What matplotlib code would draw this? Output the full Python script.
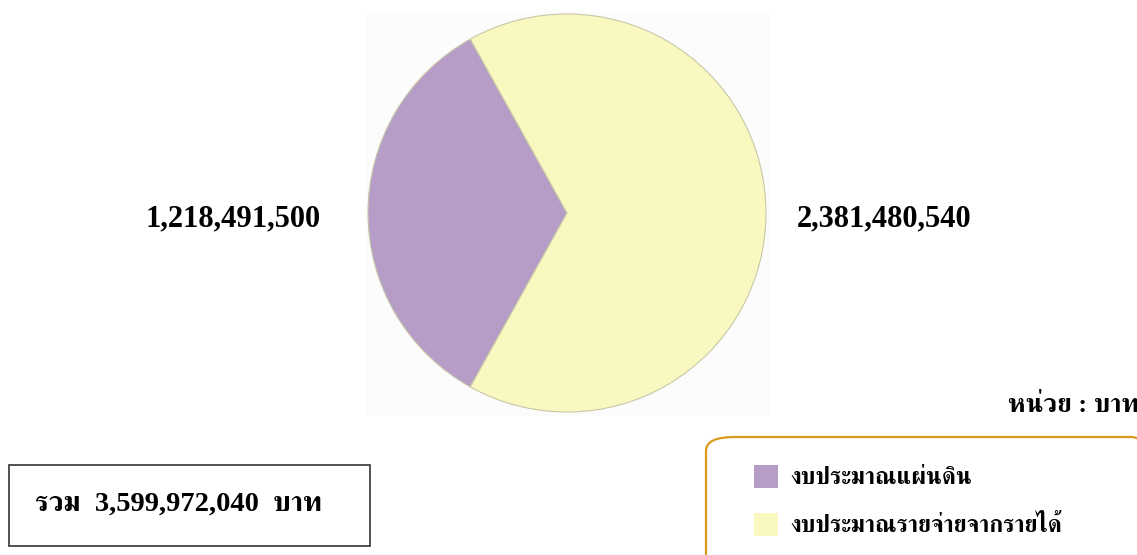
import matplotlib
matplotlib.use("Agg")
import matplotlib.pyplot as plt
import matplotlib.font_manager as fm
from matplotlib.ft2font import FT2Font
from matplotlib.patches import Rectangle, FancyBboxPatch

# ---- data ----
labels = ["งบประมาณแผ่นดิน", "งบประมาณรายจ่ายจากรายได้"]
values = [1218491500, 2381480540]
value_texts = ["1,218,491,500", "2,381,480,540"]
colors = ["#B59DC8", "#F8F8C0"]
total_text = "รวม  3,599,972,040  บาท"
unit_text = "หน่วย : บาท"

# ---- find a font with Thai glyphs ----
thai_fonts = []
for f in fm.fontManager.ttflist:
    try:
        ft = FT2Font(f.fname)
        if ft.get_char_index(0x0E01) and ft.get_char_index(0x0E32):
            thai_fonts.append(f.name)
    except Exception:
        pass
pref = sorted(set(thai_fonts), key=lambda n: (0 if "Serif" in n else 1, n))
fam = ["Liberation Serif"] + pref + ["DejaVu Serif"]

W, H = 1137, 555
fig = plt.figure(figsize=(W / 100, H / 100), dpi=100)

def fx(x):
    return x / W

def fy(y):
    return 1 - y / H

# faint backdrop behind the pie
fig.patches.append(Rectangle((fx(366), fy(416)), fx(770) - fx(366), fy(12) - fy(416),
                             transform=fig.transFigure, facecolor="#FCFCFC",
                             edgecolor="none", zorder=-5))

# pie axes: center (567,213), radius ~200
cx, cy, r = 567, 213, 201
ax = fig.add_axes([fx(cx - r), fy(cy + r), 2 * r / W, 2 * r / H])
ax.set_zorder(2)
ax.patch.set_alpha(0)
frac0 = values[0] / sum(values)
start = 180 - frac0 * 360 / 2
ax.pie(values, colors=colors, startangle=start, counterclock=True, radius=1,
       wedgeprops=dict(edgecolor="#C8C8A8", linewidth=0.8))
ax.set_xlim(-1.01, 1.01)
ax.set_ylim(-1.01, 1.01)
ax.set_aspect("equal")
ax.axis("off")

# value labels
fig.text(fx(321), fy(219), value_texts[0], ha="right", va="center",
         fontsize=22, fontweight="bold", family=fam)
fig.text(fx(797), fy(219), value_texts[1], ha="left", va="center",
         fontsize=22, fontweight="bold", family=fam)

# unit
fig.text(fx(1139), fy(406), unit_text, ha="right", va="center",
         fontsize=19, fontweight="bold", family=fam)

# total box
fig.patches.append(Rectangle((fx(9), fy(546)), fx(370) - fx(9), fy(465) - fy(546),
                             transform=fig.transFigure, fill=False,
                             edgecolor="#333333", linewidth=1.2))
fig.text(fx(35), fy(504), total_text, ha="left", va="center",
         fontsize=20.5, fontweight="bold", family=fam)

# legend box (rounded, orange)
fig.patches.append(FancyBboxPatch((fx(706), fy(570)), fx(1160) - fx(706), fy(437) - fy(570),
                                  boxstyle="round,pad=0,rounding_size=0.025",
                                  transform=fig.transFigure, fill=False,
                                  edgecolor="#D99A1E", linewidth=1.6, clip_on=False))
for i, (lab, col) in enumerate(zip(labels, colors)):
    yc = 477 + i * 48
    fig.patches.append(Rectangle((fx(754), fy(yc + 11)), fx(778) - fx(754), fy(yc - 12) - fy(yc + 11),
                                 transform=fig.transFigure, facecolor=col, edgecolor="none"))
    fig.text(fx(790), fy(yc + 1), lab, ha="left", va="center",
             fontsize=17, fontweight="bold", family=fam)

fig.savefig("out.png", dpi=100, facecolor="white")
